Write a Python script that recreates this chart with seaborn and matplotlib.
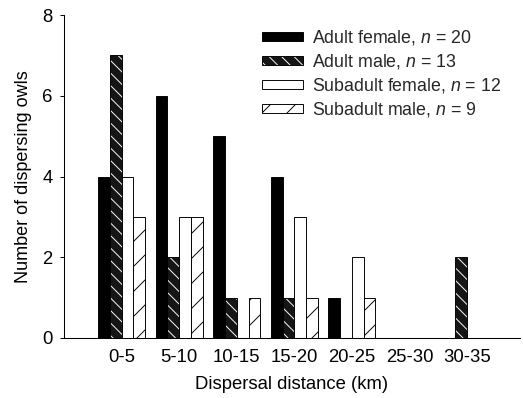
import matplotlib
matplotlib.use("Agg")
import matplotlib.pyplot as plt
import matplotlib.colors as mcolors
import seaborn as sns
import pandas as pd
from matplotlib.patches import Patch

categories = ["0-5", "5-10", "10-15", "15-20", "20-25", "25-30", "30-35"]
adult_female = [4, 6, 5, 4, 1, 0, 0]
adult_male = [7, 2, 1, 1, 0, 0, 2]
subadult_female = [4, 3, 0, 3, 2, 0, 0]
subadult_male = [3, 3, 1, 1, 1, 0, 0]
series_names = ["Adult female", "Adult male", "Subadult female", "Subadult male"]
series_n = [20, 13, 12, 9]
yticks = [0, 2, 4, 6, 8]

sns.set_theme(style="ticks")
plt.rcParams["font.family"] = ["Liberation Sans", "DejaVu Sans"]
plt.rcParams["mathtext.fontset"] = "custom"
plt.rcParams["mathtext.it"] = "Liberation Sans:italic"
plt.rcParams["mathtext.rm"] = "Liberation Sans"
plt.rcParams["hatch.linewidth"] = 0.9

DPI = 75
W, H = 523, 398
fig = plt.figure(figsize=(W / DPI, H / DPI), dpi=DPI)
ax = fig.add_axes([64 / W, 60 / H, 456 / W, 323 / H])

rows = []
for name, vals in zip(series_names, [adult_female, adult_male, subadult_female, subadult_male]):
    for c, v in zip(categories, vals):
        rows.append({"Distance": c, "Count": v, "Group": name})
df = pd.DataFrame(rows)

sns.barplot(data=df, x="Distance", y="Count", hue="Group", order=categories,
            hue_order=series_names, width=0.82, gap=0, ax=ax, legend=False,
            saturation=1, errorbar=None)

styles = [
    dict(fc="black", ec="black", hatch=None, hc=None),
    dict(fc="#151515", ec="black", hatch="\\\\", hc="white"),
    dict(fc="white", ec="black", hatch=None, hc=None),
    dict(fc="white", ec="black", hatch="/", hc="black"),
]


def style_patch(p, s):
    p.set_facecolor(s["fc"])
    p.set_edgecolor(s["ec"])
    p.set_linewidth(0.9)
    if s["hatch"]:
        p.set_hatch(s["hatch"])
        if hasattr(p, "set_hatchcolor"):
            p.set_hatchcolor(s["hc"])
        else:
            p._hatch_color = mcolors.to_rgba(s["hc"])


for cont, s in zip(ax.containers, styles):
    for p in cont.patches:
        style_patch(p, s)

ax.set_xlim(-1.0, 6.92)
ax.set_ylim(0, 8)
ax.set_yticks(yticks)
ax.set_yticklabels([str(t) for t in yticks])
sns.despine(ax=ax)
for sp in ["left", "bottom"]:
    ax.spines[sp].set_linewidth(1.0)
    ax.spines[sp].set_color("black")

ax.tick_params(axis="x", length=0, pad=11, labelsize=17.8, colors="black")
ax.tick_params(axis="y", length=4, width=1.0, pad=7, labelsize=17.8, colors="black")
ax.set_xlabel("Dispersal distance (km)", fontsize=17.8, labelpad=9, color="black")
ax.set_ylabel("Number of dispersing owls", fontsize=17.3, labelpad=10, color="black")

handles = [Patch(label=f"{nm}, $n$ = {n}") for nm, n in zip(series_names, series_n)]
leg = ax.legend(handles=handles, loc="upper left",
                bbox_to_anchor=(262 / W, 1 - 28 / H), bbox_transform=fig.transFigure,
                frameon=False, fontsize=17.1, handlelength=2.3, handleheight=0.4,
                handletextpad=0.5, labelspacing=0.28, borderpad=0, borderaxespad=0)
for h, s in zip(leg.legend_handles, styles):
    style_patch(h, s)

fig.savefig("out.png", dpi=DPI)
